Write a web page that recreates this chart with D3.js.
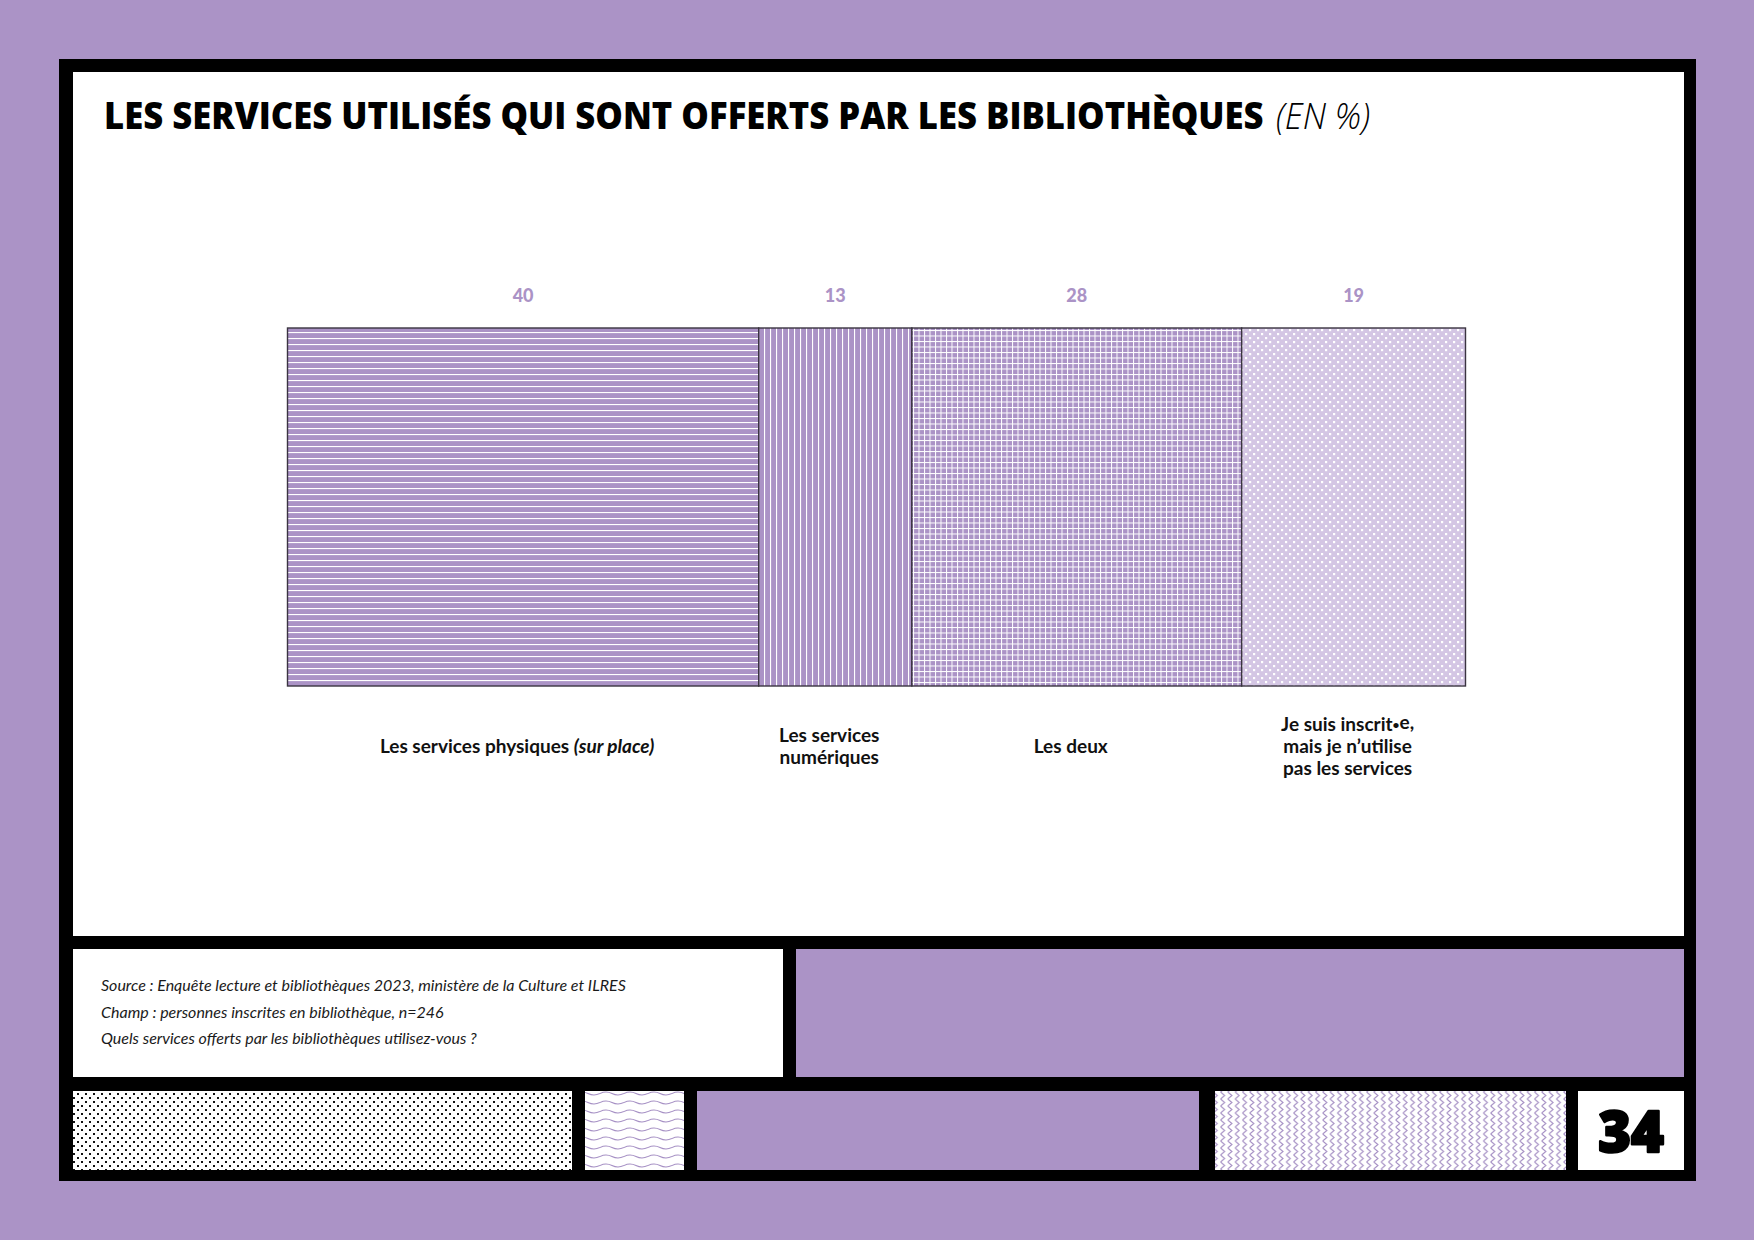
<!DOCTYPE html>
<html>
<head>
<meta charset="utf-8">
<script src="https://cdn.jsdelivr.net/npm/d3@7"></script>
<style>
  html, body { margin: 0; padding: 0; background: #ab93c6; }
  svg { display: block; }
</style>
</head>
<body>
<svg id="chart" width="1754" height="1240"></svg>
<script>
// ---------- DATA ----------
const categories = [
  "Les services physiques (sur place)",
  "Les services numériques",
  "Les deux",
  "Je suis inscrit•e, mais je n’utilise pas les services"
];
const values = [40, 13, 28, 19];
// label lines: each line is a list of [text, italic?] parts
const labelLines = [
  [[["Les services physiques ", false], ["(sur place)", true]]],
  [[["Les services", false]], [["numériques", false]]],
  [[["Les deux", false]]],
  [[["Je suis inscrit•e,", false]], [["mais je n’utilise", false]], [["pas les services", false]]]
];
const titleMain = "LES SERVICES UTILISÉS QUI SONT OFFERTS PAR LES BIBLIOTHÈQUES";
const titleUnit = "(EN %)";
const sourceLines = [
  "Source : Enquête lecture et bibliothèques 2023, ministère de la Culture et ILRES",
  "Champ : personnes inscrites en bibliothèque, n=246",
  "Quels services offerts par les bibliothèques utilisez-vous ?"
];
const pageNumber = "34";

// ---------- STYLE ----------
const PURPLE = "#ab93c6";
const LIGHT = "#d4c6e4";
const svg = d3.select("#chart");
const defs = svg.append("defs");

function pattern(id, w, h, bg) {
  const p = defs.append("pattern").attr("id", id).attr("patternUnits", "userSpaceOnUse")
    .attr("width", w).attr("height", h);
  p.append("rect").attr("width", w).attr("height", h).attr("fill", bg);
  return p;
}
// horizontal lines
pattern("pH", 10, 6, PURPLE).append("rect").attr("x", 0).attr("y", 2).attr("width", 10).attr("height", 1.1).attr("fill", "#fff");
// vertical lines
pattern("pV", 6, 10, PURPLE).append("rect").attr("x", 2).attr("y", 0).attr("width", 1.1).attr("height", 10).attr("fill", "#fff");
// grid
{
  const p = pattern("pG", 5.5, 5.5, PURPLE);
  p.append("rect").attr("x", 0).attr("y", 0).attr("width", 5.5).attr("height", 1).attr("fill", "#fff");
  p.append("rect").attr("x", 0).attr("y", 0).attr("width", 1).attr("height", 5.5).attr("fill", "#fff");
}
// dots
{
  const p = pattern("pD", 8, 8, LIGHT);
  p.append("rect").attr("x", 1).attr("y", 1).attr("width", 2.2).attr("height", 2.2).attr("fill", "#fff");
  p.append("rect").attr("x", 5).attr("y", 5).attr("width", 2.2).attr("height", 2.2).attr("fill", "#fff");
}
// black dots (bottom)
{
  const p = pattern("pBD", 8, 8, "#fff");
  p.append("rect").attr("x", 1).attr("y", 1).attr("width", 2).attr("height", 2).attr("fill", "#111");
  p.append("rect").attr("x", 5).attr("y", 5).attr("width", 2).attr("height", 2).attr("fill", "#111");
}
// waves
pattern("pW", 24, 9, "#fff").append("path")
  .attr("d", "M0 4.5 Q 6 1.5 12 4.5 T 24 4.5").attr("fill", "none").attr("stroke", "#a58fc4").attr("stroke-width", 1.1);
// zigzag
pattern("pZ", 7.3, 7, "#fff").append("path")
  .attr("d", "M1.5 0 L5.5 3.5 L1.5 7").attr("fill", "none").attr("stroke", "#a58fc4").attr("stroke-width", 1.1);

// ---------- FRAME ----------
svg.append("rect").attr("width", 1754).attr("height", 1240).attr("fill", PURPLE);
svg.append("rect").attr("x", 59).attr("y", 59).attr("width", 1637).attr("height", 1122).attr("fill", "#000");
const boxes = [
  {x: 73, y: 72, w: 1611, h: 864, fill: "#fff"},
  {x: 73, y: 949, w: 710, h: 128, fill: "#fff"},
  {x: 796, y: 949, w: 888, h: 128, fill: PURPLE},
  {x: 73, y: 1091, w: 499, h: 79, fill: "url(#pBD)"},
  {x: 585, y: 1091, w: 99, h: 79, fill: "url(#pW)"},
  {x: 697, y: 1091, w: 502, h: 79, fill: PURPLE},
  {x: 1215, y: 1091, w: 351, h: 79, fill: "url(#pZ)"},
  {x: 1578, y: 1091, w: 106, h: 79, fill: "#fff"}
];
svg.selectAll("rect.box").data(boxes).join("rect").attr("class", "box")
  .attr("x", d => d.x).attr("y", d => d.y).attr("width", d => d.w).attr("height", d => d.h)
  .attr("fill", d => d.fill);

// ---------- TITLE ----------
function fitText(sel, x, y, targetW) {
  const w = sel.node().getComputedTextLength();
  sel.attr("transform", `translate(${x},${y}) scale(${targetW / w},1)`);
}
const tMain = svg.append("text")
  .attr("font-family", "'Open Sans', sans-serif").attr("font-weight", 800).attr("font-size", 37)
  .attr("fill", "#000").text(titleMain);
fitText(tMain, 104, 129, 1160);
const tUnit = svg.append("text")
  .attr("font-family", "'Open Sans', sans-serif").attr("font-weight", 300).attr("font-style", "italic")
  .attr("font-size", 36).attr("fill", "#000").text(titleUnit);
fitText(tUnit, 1276, 129, 94);

// ---------- CHART ----------
const x = d3.scaleLinear().domain([0, 100]).range([287.5, 1465.5]);
const ends = Array.from(d3.cumsum(values));
const starts = ends.map((e, i) => e - values[i]);
const fills = ["url(#pH)", "url(#pV)", "url(#pG)", "url(#pD)"];
const barTop = 328, barH = 358;

const segs = values.map((v, i) => ({v, i, s: starts[i], e: ends[i], cat: categories[i]}));

svg.append("g").selectAll("rect").data(segs).join("rect")
  .attr("x", d => x(d.s)).attr("y", barTop)
  .attr("width", d => x(d.e) - x(d.s)).attr("height", barH)
  .attr("fill", (d, i) => fills[i])
  .attr("stroke", "#3a3440").attr("stroke-width", 1.4);

// value labels
svg.append("g").selectAll("text").data(segs).join("text")
  .attr("x", d => x((d.s + d.e) / 2)).attr("y", 302)
  .attr("text-anchor", "middle")
  .attr("font-family", "Lato, sans-serif").attr("font-weight", 900).attr("font-size", 18)
  .attr("fill", PURPLE).text(d => d.v);

// category labels
const lineH = 22;
const gLab = svg.append("g");
segs.forEach((d, i) => {
  const lines = labelLines[i];
  const cx = x((d.s + d.e) / 2) - 6;
  const y0 = 753 - (lines.length - 1) * lineH / 2;
  const t = gLab.append("text").attr("text-anchor", "middle")
    .attr("font-family", "Lato, sans-serif").attr("font-weight", 700).attr("font-size", 19)
    .attr("fill", "#111");
  lines.forEach((parts, li) => {
    parts.forEach((p, pi) => {
      const pieces = p[0].split("•");
      pieces.forEach((piece, k) => {
        if (k > 0) {
          t.append("tspan").attr("font-size", 12).attr("dy", -2).text("•");
          t.append("tspan").attr("dy", 2).text("");
        }
        const ts = t.append("tspan").text(piece);
        if (pi === 0 && k === 0) ts.attr("x", cx).attr("y", y0 + li * lineH);
        if (p[1]) ts.attr("font-style", "italic");
      });
    });
  });
});

// ---------- SOURCE ----------
svg.append("g").selectAll("text").data(sourceLines).join("text")
  .attr("x", 101).attr("y", (d, i) => 991 + i * 26.5)
  .attr("font-family", "Lato, sans-serif").attr("font-style", "italic").attr("font-weight", 400)
  .attr("font-size", 16).attr("fill", "#1a1a1a").text(d => d);

// ---------- PAGE NUMBER ----------
svg.append("text").attr("x", 1631).attr("y", 1152).attr("text-anchor", "middle")
  .attr("font-family", "'Open Sans', sans-serif").attr("font-weight", 800).attr("font-size", 56)
  .attr("stroke", "#000").attr("stroke-width", 2.5).attr("stroke-linejoin", "round")
  .attr("fill", "#000").text(pageNumber);
</script>
</body>
</html>
